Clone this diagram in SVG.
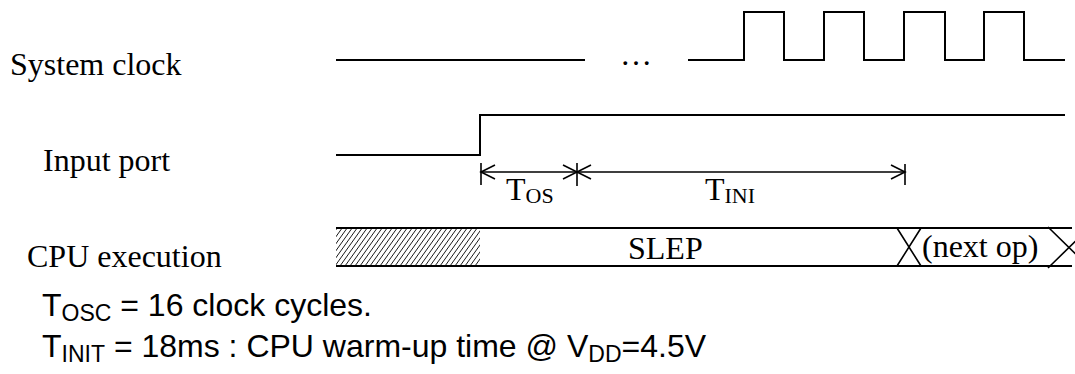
<svg xmlns="http://www.w3.org/2000/svg" width="1075" height="374" viewBox="0 0 1075 374">
<style>
.sig{fill:none;stroke:#000;stroke-width:2;stroke-linejoin:miter}
.dim{fill:none;stroke:#000;stroke-width:1.6}
.lbl{font-family:"Liberation Serif","Times New Roman",serif;font-size:32px;fill:#000}
.note{font-family:"Liberation Sans",Arial,sans-serif;font-size:32px;fill:#000}
</style>
<defs>
<pattern id="hatch" patternUnits="userSpaceOnUse" width="5" height="7">
<path d="M0,7 L5,0 M-1,1.4 L1,-1.4 M4,8.4 L6,5.6" stroke="#000" stroke-width="0.9"/>
</pattern>
</defs>
<rect width="1075" height="374" fill="#fff"/>
<g id="labels">
<text class="lbl" x="10" y="75">System clock</text>
<text class="lbl" x="43" y="171">Input port</text>
<text class="lbl" x="27" y="267">CPU execution</text>
</g>
<g id="system-clock">
<path class="sig" d="M336,60 H585"/>
<text class="lbl" x="620" y="65">…</text>
<path class="sig" d="M688,60 H744 V12 H784 V60 H824 V12 H864 V60 H904 V12 H945 V60 H984 V12 H1024 V60 H1065"/>
</g>
<g id="input-port">
<path class="sig" d="M336,155 H480 V115 H1065"/>
</g>
<g id="cpu-execution">
<rect x="336" y="229" width="144" height="36" fill="url(#hatch)"/>
<path class="sig" d="M336,228 H1072 M336,266 H1072"/>
<path class="dim" d="M897,228 L921,266 M921,228 L897,266"/>
<path class="dim" d="M1048,227 L1090,268 M1048,268 L1090,227"/>
<text class="lbl" x="628" y="259">SLEP</text>
<text class="lbl" x="922" y="257">(next op)</text>
</g>
<g id="connectors">
<path class="dim" d="M481,163 V185 M577,163 V186 M905,164 V185 M481,172 H905"/>
<path class="dim" d="M495,165 L481,172 L495,179"/>
<path class="dim" d="M563,165 L577,172 L563,179 M591,165 L577,172 L591,179"/>
<path class="dim" d="M891,165 L905,172 L891,179"/>
</g>
<g id="timing-labels">
<text class="lbl" x="506" y="200">T<tspan font-size="22" dy="3">OS</tspan></text>
<text class="lbl" x="705" y="200">T<tspan font-size="22" dy="3">INI</tspan></text>
</g>
<g id="notes">
<text class="note" x="42" y="316">T<tspan font-size="23" dy="5">OSC</tspan><tspan dy="-5"> = 16 clock cycles.</tspan></text>
<text class="note" x="42" y="357">T<tspan font-size="23" dy="5">INIT</tspan><tspan dy="-5"> = 18ms : CPU warm-up time @ V</tspan><tspan font-size="23" dy="5">DD</tspan><tspan dy="-5">=4.5V</tspan></text>
</g>
</svg>
